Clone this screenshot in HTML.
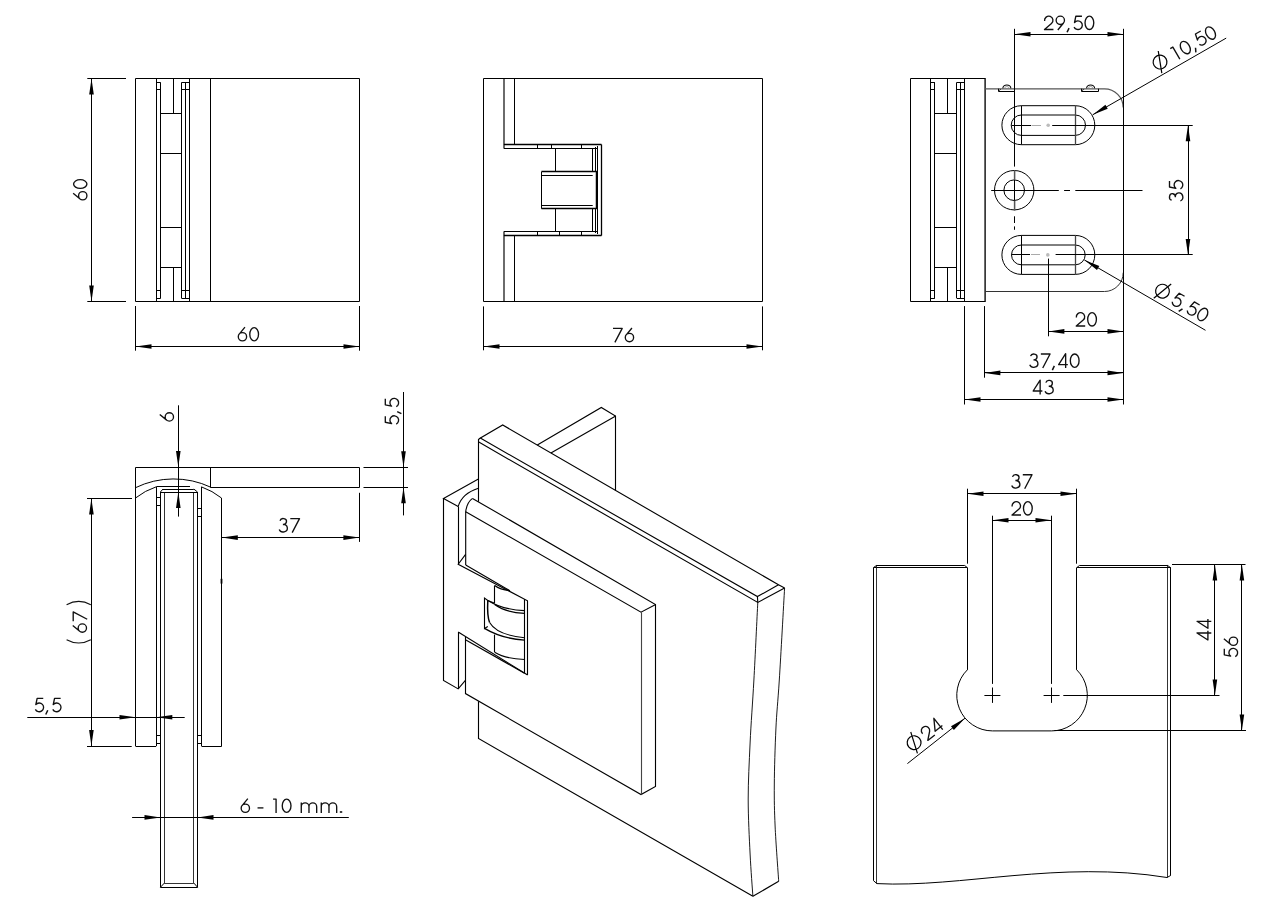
<!DOCTYPE html>
<html><head><meta charset="utf-8"><title>Glass hinge drawing</title>
<style>
html,body{margin:0;padding:0;background:#fff;}
body{width:1285px;height:913px;overflow:hidden;}
svg{display:block;}
</style></head><body>
<svg width="1285" height="913" viewBox="0 0 1285 913">
<rect x="0" y="0" width="1285" height="913" fill="#fff" stroke="none"/>
<g fill="none" stroke="#000" stroke-width="1">
<path d="M135.5 78.5L359.5 78.5L359.5 301.5L135.5 301.5Z" fill="none"/>
<line x1="156.5" y1="78.5" x2="156.5" y2="301.5"/>
<line x1="189.5" y1="78.5" x2="189.5" y2="301.5"/>
<line x1="160.5" y1="82.5" x2="160.5" y2="298.2"/>
<line x1="181.5" y1="82.5" x2="181.5" y2="298.2"/>
<line x1="185.5" y1="82.5" x2="185.5" y2="298.2"/>
<line x1="156.5" y1="82.5" x2="160.7" y2="82.5"/>
<line x1="156.5" y1="89.5" x2="160.7" y2="89.5"/>
<line x1="156.5" y1="290.5" x2="160.7" y2="290.5"/>
<line x1="156.5" y1="298.5" x2="160.7" y2="298.5"/>
<line x1="181.5" y1="82.5" x2="189.5" y2="82.5"/>
<line x1="181.5" y1="89.5" x2="189.5" y2="89.5"/>
<line x1="181.5" y1="290.5" x2="189.5" y2="290.5"/>
<line x1="181.5" y1="298.5" x2="189.5" y2="298.5"/>
<line x1="173.5" y1="78.5" x2="173.5" y2="113.4"/>
<line x1="173.5" y1="267.6" x2="173.5" y2="301.5"/>
<line x1="160.7" y1="113.5" x2="181.5" y2="113.5"/>
<line x1="160.7" y1="153.5" x2="181.5" y2="153.5"/>
<line x1="160.7" y1="227.5" x2="181.5" y2="227.5"/>
<line x1="160.7" y1="267.5" x2="181.5" y2="267.5"/>
<line x1="210.5" y1="78.5" x2="210.5" y2="301.5"/>
<line x1="87.3" y1="78.5" x2="126" y2="78.5"/>
<line x1="87.3" y1="301.5" x2="126" y2="301.5"/>
<line x1="91.5" y1="78.5" x2="91.5" y2="301.5"/>
<polygon points="91.50,78.50 93.80,94.50 89.20,94.50" fill="#000" stroke="none"/>
<polygon points="91.50,301.50 89.20,285.50 93.80,285.50" fill="#000" stroke="none"/>
<g transform="translate(87.6 189.9) rotate(-90)" stroke="#111" fill="none" stroke-linecap="butt" stroke-linejoin="round"><g stroke-width="1.35"><path transform="translate(-10.90 0)" d="M7.55 -14.45L1.83 -7.50M0.88 -4.85A4.17 4.17 0 1 1 9.22 -4.85A4.17 4.17 0 1 1 0.88 -4.85Z"/><path transform="translate(0.80 0)" d="M0.68 -7.35A4.37 6.67 0 1 1 9.42 -7.35A4.37 6.67 0 1 1 0.68 -7.35Z"/></g></g>
<line x1="135.5" y1="306" x2="135.5" y2="350.7"/>
<line x1="359.5" y1="306" x2="359.5" y2="350.7"/>
<line x1="135.5" y1="346.5" x2="359.5" y2="346.5"/>
<polygon points="135.50,346.50 151.50,344.20 151.50,348.80" fill="#000" stroke="none"/>
<polygon points="359.50,346.50 343.50,348.80 343.50,344.20" fill="#000" stroke="none"/>
<g transform="translate(248.3 341.6)" stroke="#111" fill="none" stroke-linecap="butt" stroke-linejoin="round"><g stroke-width="1.35"><path transform="translate(-10.90 0)" d="M7.55 -14.45L1.83 -7.50M0.88 -4.85A4.17 4.17 0 1 1 9.22 -4.85A4.17 4.17 0 1 1 0.88 -4.85Z"/><path transform="translate(0.80 0)" d="M0.68 -7.35A4.37 6.67 0 1 1 9.42 -7.35A4.37 6.67 0 1 1 0.68 -7.35Z"/></g></g>
<path d="M483.5 78.5L762.5 78.5L762.5 301.5L483.5 301.5Z" fill="none"/>
<path d="M504 78.5V148.4M504 231.5V301.5" fill="none" stroke-width="1.15"/>
<line x1="514.5" y1="78.5" x2="514.5" y2="144.5"/>
<line x1="514.5" y1="235.6" x2="514.5" y2="301.5"/>
<line x1="503.9" y1="144.5" x2="601.5" y2="144.5" stroke-width="1.4"/>
<line x1="503.9" y1="148.5" x2="597.9" y2="148.5"/>
<line x1="503.9" y1="231.5" x2="597.9" y2="231.5"/>
<line x1="503.9" y1="235.5" x2="601.5" y2="235.5" stroke-width="1.4"/>
<line x1="537.5" y1="144.5" x2="537.5" y2="148.4"/>
<line x1="551.5" y1="144.5" x2="551.5" y2="148.4"/>
<line x1="581.5" y1="144.5" x2="581.5" y2="148.4"/>
<line x1="537.5" y1="231.5" x2="537.5" y2="235.6"/>
<line x1="559.5" y1="231.5" x2="559.5" y2="235.6"/>
<line x1="581.5" y1="231.5" x2="581.5" y2="235.6"/>
<line x1="601.5" y1="144.5" x2="601.5" y2="235.6" stroke-width="1.3"/>
<line x1="597.5" y1="146" x2="597.5" y2="234"/>
<line x1="595.5" y1="147" x2="595.5" y2="171.8"/>
<line x1="595.5" y1="208.6" x2="595.5" y2="233"/>
<line x1="596.5" y1="171.8" x2="596.5" y2="208.6" stroke-width="1.5"/>
<line x1="592.5" y1="148.4" x2="592.5" y2="171.8"/>
<line x1="592.5" y1="208.6" x2="592.5" y2="231.5"/>
<line x1="555.5" y1="148.4" x2="555.5" y2="171.8"/>
<line x1="555.5" y1="208.6" x2="555.5" y2="231.5"/>
<line x1="541.5" y1="171.8" x2="541.5" y2="208.6"/>
<line x1="541.4" y1="171.5" x2="597.5" y2="171.5" stroke-width="1.4"/>
<line x1="541.4" y1="175.5" x2="592.7" y2="175.5"/>
<line x1="541.4" y1="205.5" x2="592.7" y2="205.5"/>
<line x1="541.4" y1="208.5" x2="597.5" y2="208.5" stroke-width="1.4"/>
<line x1="483.5" y1="306.4" x2="483.5" y2="350.3"/>
<line x1="762.5" y1="306.4" x2="762.5" y2="350.3"/>
<line x1="483.5" y1="346.5" x2="762.5" y2="346.5"/>
<polygon points="483.50,346.50 499.50,344.20 499.50,348.80" fill="#000" stroke="none"/>
<polygon points="762.50,346.50 746.50,348.80 746.50,344.20" fill="#000" stroke="none"/>
<g transform="translate(623.5 342.4)" stroke="#111" fill="none" stroke-linecap="butt" stroke-linejoin="round"><g stroke-width="1.35"><path transform="translate(-10.80 0)" d="M0.3 -14H9.5L2.2 0"/><path transform="translate(0.90 0)" d="M7.55 -14.45L1.83 -7.50M0.88 -4.85A4.17 4.17 0 1 1 9.22 -4.85A4.17 4.17 0 1 1 0.88 -4.85Z"/></g></g>
<path d="M985 78.5L910.5 78.5L910.5 301.5L985 301.5" fill="none"/>
<path d="M985.1 78V302" fill="none" stroke-width="1.35"/>
<line x1="930.5" y1="78.5" x2="930.5" y2="301.3"/>
<line x1="964.5" y1="78.5" x2="964.5" y2="301.3"/>
<line x1="934.5" y1="82.5" x2="934.5" y2="298.0"/>
<line x1="956.5" y1="82.5" x2="956.5" y2="298.0"/>
<line x1="960.5" y1="82.5" x2="960.5" y2="298.0"/>
<line x1="930.7" y1="82.5" x2="934.9000000000001" y2="82.5"/>
<line x1="930.7" y1="89.5" x2="934.9000000000001" y2="89.5"/>
<line x1="930.7" y1="290.5" x2="934.9000000000001" y2="290.5"/>
<line x1="930.7" y1="298.5" x2="934.9000000000001" y2="298.5"/>
<line x1="956.6" y1="82.5" x2="964.6" y2="82.5"/>
<line x1="956.6" y1="89.5" x2="964.6" y2="89.5"/>
<line x1="956.6" y1="290.5" x2="964.6" y2="290.5"/>
<line x1="956.6" y1="298.5" x2="964.6" y2="298.5"/>
<line x1="947.5" y1="78.5" x2="947.5" y2="113.4"/>
<line x1="947.5" y1="267.40000000000003" x2="947.5" y2="301.3"/>
<line x1="934.9000000000001" y1="113.5" x2="956.6" y2="113.5"/>
<line x1="934.9000000000001" y1="153.5" x2="956.6" y2="153.5"/>
<line x1="934.9000000000001" y1="227.5" x2="956.6" y2="227.5"/>
<line x1="934.9000000000001" y1="267.5" x2="956.6" y2="267.5"/>
<path d="M985.2 88.9H1104.5A18.7 18.7 0 0 1 1123.2 107.6" fill="none" stroke="#555" stroke-width="1.3"/>
<path d="M1123.2 272.7A18.7 18.7 0 0 1 1104.5 291.5H985.2" fill="none" stroke="#333" stroke-width="1.0"/>
<path d="M998.5 88.7L998.5 91.5L1014.5 91.5L1014.5 88.7" fill="none" stroke-width="1.0"/>
<path d="M1002.85 88.3A4 3.3 0 0 1 1010.85 88.3" fill="none" stroke-width="1.1"/>
<path d="M1004.65 88.3A2.2 1.8 0 0 1 1009.0500000000001 88.3" fill="none" stroke="#888" stroke-width="0.7"/>
<path d="M998.3 89L999.3 90.6L1000.9 89" fill="none" stroke-width="0.7"/>
<path d="M1081.5 88.7L1081.5 91.5L1098.5 91.5L1098.5 88.7" fill="none" stroke-width="1.0"/>
<path d="M1086.6000000000001 88.3A4 3.3 0 0 1 1094.6000000000001 88.3" fill="none" stroke-width="1.1"/>
<path d="M1088.4 88.3A2.2 1.8 0 0 1 1092.8000000000002 88.3" fill="none" stroke="#888" stroke-width="0.7"/>
<path d="M1081.5 89L1082.5 90.6L1084.1 89" fill="none" stroke-width="0.7"/>
<path d="M1021.4 105.7H1075.3A19.5 19.5 0 0 1 1075.3 144.7H1021.4A19.5 19.5 0 0 1 1021.4 105.7Z" fill="none"/>
<path d="M1021.4 115.0H1075.3A10.2 10.2 0 0 1 1075.3 135.4H1021.4A10.2 10.2 0 0 1 1021.4 115.0Z" fill="none"/>
<line x1="1021.5" y1="105.7" x2="1021.5" y2="144.7"/>
<line x1="1075.5" y1="105.7" x2="1075.5" y2="144.7" stroke="#444" stroke-width="1.3"/>
<path d="M1021.4 235.4H1075.3A19.5 19.5 0 0 1 1075.3 274.4H1021.4A19.5 19.5 0 0 1 1021.4 235.4Z" fill="none"/>
<path d="M1021.4 245.0H1075.3A9.9 9.9 0 0 1 1075.3 264.8H1021.4A9.9 9.9 0 0 1 1021.4 245.0Z" fill="none"/>
<line x1="1021.5" y1="235.4" x2="1021.5" y2="274.4"/>
<line x1="1075.5" y1="235.4" x2="1075.5" y2="274.4" stroke="#444" stroke-width="1.3"/>
<circle cx="1014.2" cy="190.2" r="19.7" fill="none"/>
<circle cx="1014.2" cy="190.2" r="10.3" fill="none"/>
<line x1="1011.5" y1="125.5" x2="1031" y2="125.5"/>
<line x1="1031.5" y1="125.5" x2="1041" y2="125.5" stroke="#aaa"/>
<circle cx="1048.2" cy="125.2" r="1.8" fill="#bbb" stroke="none"/>
<line x1="1052.2" y1="125.5" x2="1192.7" y2="125.5"/>
<line x1="1011.5" y1="254.5" x2="1030" y2="254.5"/>
<line x1="1031" y1="254.5" x2="1040" y2="254.5" stroke="#aaa"/>
<circle cx="1047.8" cy="254.9" r="1.8" fill="#bbb" stroke="none"/>
<line x1="1055.6" y1="254.5" x2="1192.7" y2="254.5"/>
<line x1="991.2" y1="190.5" x2="1058.8" y2="190.5"/>
<line x1="1064.1" y1="190.5" x2="1070" y2="190.5"/>
<line x1="1075.3" y1="190.5" x2="1142.5" y2="190.5"/>
<line x1="1014.5" y1="28.8" x2="1014.5" y2="166.6"/>
<line x1="1014.5" y1="179.6" x2="1014.5" y2="200.8"/>
<line x1="1014.5" y1="216.3" x2="1014.5" y2="223"/>
<line x1="1014.5" y1="226.4" x2="1014.5" y2="229.8"/>
<path d="M1014.6 170.2V179.6M1014.6 200.8V210.4" fill="none" stroke="#555" stroke-width="1.5"/>
<line x1="1123.5" y1="28.8" x2="1123.5" y2="404.5"/>
<line x1="1014.5" y1="34.5" x2="1123.5" y2="34.5"/>
<polygon points="1014.50,34.20 1030.50,31.90 1030.50,36.50" fill="#000" stroke="none"/>
<polygon points="1123.50,34.20 1107.50,36.50 1107.50,31.90" fill="#000" stroke="none"/>
<g transform="translate(1069 30.2)" stroke="#111" fill="none" stroke-linecap="butt" stroke-linejoin="round"><g stroke-width="1.35"><path transform="translate(-25.45 0)" d="M1.04 -9.22A4.2 4.2 0 1 1 7.92 -6.60L0.95 -0.68H9.9"/><path transform="translate(-13.75 0)" d="M2.55 -0.25L8.27 -7.20M0.88 -9.85A4.17 4.17 0 1 1 9.22 -9.85A4.17 4.17 0 1 1 0.88 -9.85Z"/><path transform="translate(3.65 0)" d="M9.3 -14H3.2L1.87 -7.71A4.35 4.35 0 1 1 1.42 -3.06"/><path transform="translate(15.35 0)" d="M0.68 -7.35A4.37 6.67 0 1 1 9.42 -7.35A4.37 6.67 0 1 1 0.68 -7.35Z"/></g><g stroke-width="1.5"><path transform="translate(-2.65 0)" d="M2.7 -2.1L0.7 2.1"/></g></g>
<line x1="1092.7" y1="114.8" x2="1226.2" y2="38.1"/>
<polygon points="1092.70,114.80 1105.43,104.84 1107.72,108.82" fill="#000" stroke="none"/>
<line x1="1084.3" y1="259.9" x2="1205.5" y2="330.3"/>
<polygon points="1084.30,259.90 1099.29,265.95 1096.98,269.93" fill="#000" stroke="none"/>
<line x1="1188.5" y1="125.3" x2="1188.5" y2="255"/>
<polygon points="1188.00,125.30 1190.30,141.30 1185.70,141.30" fill="#000" stroke="none"/>
<polygon points="1188.00,255.00 1185.70,239.00 1190.30,239.00" fill="#000" stroke="none"/>
<g transform="translate(1183.5 191) rotate(-90)" stroke="#111" fill="none" stroke-linecap="butt" stroke-linejoin="round"><g stroke-width="1.35"><path transform="translate(-10.90 0)" d="M1.71 -11.83A3.3 2.95 0 1 1 4.6 -8.13M4.6 -8.16A4.2 3.74 0 1 1 0.90 -3.14"/><path transform="translate(0.80 0)" d="M9.3 -14H3.2L1.87 -7.71A4.35 4.35 0 1 1 1.42 -3.06"/></g></g>
<line x1="1048.5" y1="258.6" x2="1048.5" y2="336.3"/>
<line x1="1048.4" y1="331.5" x2="1123.5" y2="331.5"/>
<polygon points="1048.40,331.40 1064.40,329.10 1064.40,333.70" fill="#000" stroke="none"/>
<polygon points="1123.50,331.40 1107.50,333.70 1107.50,329.10" fill="#000" stroke="none"/>
<g transform="translate(1086.2 326.7)" stroke="#111" fill="none" stroke-linecap="butt" stroke-linejoin="round"><g stroke-width="1.35"><path transform="translate(-10.90 0)" d="M1.04 -9.22A4.2 4.2 0 1 1 7.92 -6.60L0.95 -0.68H9.9"/><path transform="translate(0.80 0)" d="M0.68 -7.35A4.37 6.67 0 1 1 9.42 -7.35A4.37 6.67 0 1 1 0.68 -7.35Z"/></g></g>
<line x1="984.5" y1="306.1" x2="984.5" y2="377.7"/>
<line x1="984.4" y1="372.5" x2="1123.5" y2="372.5"/>
<polygon points="984.40,372.90 1000.40,370.60 1000.40,375.20" fill="#000" stroke="none"/>
<polygon points="1123.50,372.90 1107.50,375.20 1107.50,370.60" fill="#000" stroke="none"/>
<g transform="translate(1054.3 368)" stroke="#111" fill="none" stroke-linecap="butt" stroke-linejoin="round"><g stroke-width="1.35"><path transform="translate(-25.45 0)" d="M1.71 -11.83A3.3 2.95 0 1 1 4.6 -8.13M4.6 -8.16A4.2 3.74 0 1 1 0.90 -3.14"/><path transform="translate(-13.75 0)" d="M0.3 -14H9.5L2.2 0"/><path transform="translate(3.65 0)" d="M7.7 0V-14.3L0.7 -3.4H9.9"/><path transform="translate(15.35 0)" d="M0.68 -7.35A4.37 6.67 0 1 1 9.42 -7.35A4.37 6.67 0 1 1 0.68 -7.35Z"/></g><g stroke-width="1.5"><path transform="translate(-2.65 0)" d="M2.7 -2.1L0.7 2.1"/></g></g>
<line x1="964.5" y1="306.1" x2="964.5" y2="404.5"/>
<line x1="964.5" y1="399.5" x2="1123.5" y2="399.5"/>
<polygon points="964.50,399.50 980.50,397.20 980.50,401.80" fill="#000" stroke="none"/>
<polygon points="1123.50,399.50 1107.50,401.80 1107.50,397.20" fill="#000" stroke="none"/>
<g transform="translate(1043.2 394.4)" stroke="#111" fill="none" stroke-linecap="butt" stroke-linejoin="round"><g stroke-width="1.35"><path transform="translate(-10.75 0)" d="M7.7 0V-14.3L0.7 -3.4H9.9"/><path transform="translate(0.95 0)" d="M1.71 -11.83A3.3 2.95 0 1 1 4.6 -8.13M4.6 -8.16A4.2 3.74 0 1 1 0.90 -3.14"/></g></g>
<path d="M135.5 746L135.5 467.5L359.5 467.5L359.5 487.5L210.5 487.5L210.5 467" fill="none"/>
<path d="M135.5 487.7A87.4 87.4 0 0 1 210.7 487.2" fill="none"/>
<path d="M135.5 498A69.8 69.8 0 0 1 156.5 486.7" fill="none"/>
<path d="M201.5 486.9A69.8 69.8 0 0 1 221.5 498V746.5H201.5" fill="none"/>
<line x1="156.5" y1="486.5" x2="190" y2="486.5"/>
<line x1="163" y1="489.5" x2="193.8" y2="489.5"/>
<line x1="160.4" y1="492.5" x2="197.5" y2="492.5"/>
<line x1="160.4" y1="492" x2="163" y2="489"/>
<line x1="193.8" y1="489" x2="197.5" y2="492"/>
<line x1="156.5" y1="486.8" x2="156.5" y2="746"/>
<line x1="135.5" y1="746.5" x2="156.2" y2="746.5"/>
<line x1="201.5" y1="486.8" x2="201.5" y2="746"/>
<path d="M160.5 492L160.5 887.5L197.5 887.5L197.5 492" fill="none"/>
<path d="M164.5 492L164.5 883.5L193.5 883.5L193.5 492" fill="none" stroke-width="0.8"/>
<line x1="160.5" y1="887.2" x2="164.3" y2="883.1"/>
<line x1="197.5" y1="887.2" x2="193.9" y2="883.1"/>
<line x1="156.2" y1="497.5" x2="160.5" y2="497.5"/>
<line x1="156.2" y1="505.5" x2="160.5" y2="505.5"/>
<line x1="197.5" y1="508.5" x2="201.4" y2="508.5"/>
<line x1="197.5" y1="516.5" x2="201.4" y2="516.5"/>
<line x1="156.2" y1="735.5" x2="160.5" y2="735.5"/>
<line x1="197.5" y1="735.5" x2="201.4" y2="735.5"/>
<line x1="156.2" y1="743.5" x2="160.5" y2="743.5"/>
<line x1="197.5" y1="743.5" x2="201.4" y2="743.5"/>
<line x1="221.5" y1="578.8" x2="221.5" y2="583.6" stroke-width="1.8"/>
<line x1="178.5" y1="405.3" x2="178.5" y2="516.6"/>
<polygon points="178.30,467.00 176.00,451.00 180.60,451.00" fill="#000" stroke="none"/>
<polygon points="178.30,492.00 180.60,508.00 176.00,508.00" fill="#000" stroke="none"/>
<g transform="translate(174.2 417) rotate(-90)" stroke="#111" fill="none" stroke-linecap="butt" stroke-linejoin="round"><g stroke-width="1.35"><path transform="translate(-4.95 0)" d="M7.55 -14.45L1.83 -7.50M0.88 -4.85A4.17 4.17 0 1 1 9.22 -4.85A4.17 4.17 0 1 1 0.88 -4.85Z"/></g></g>
<line x1="363.5" y1="467.5" x2="408" y2="467.5"/>
<line x1="363.5" y1="487.5" x2="408" y2="487.5"/>
<line x1="403.5" y1="392" x2="403.5" y2="515.4"/>
<polygon points="403.50,467.20 401.20,451.20 405.80,451.20" fill="#000" stroke="none"/>
<polygon points="403.50,487.20 405.80,503.20 401.20,503.20" fill="#000" stroke="none"/>
<g transform="translate(399.3 411.7) rotate(-90)" stroke="#111" fill="none" stroke-linecap="butt" stroke-linejoin="round"><g stroke-width="1.35"><path transform="translate(-13.75 0)" d="M9.3 -14H3.2L1.87 -7.71A4.35 4.35 0 1 1 1.42 -3.06"/><path transform="translate(3.65 0)" d="M9.3 -14H3.2L1.87 -7.71A4.35 4.35 0 1 1 1.42 -3.06"/></g><g stroke-width="1.5"><path transform="translate(-2.65 0)" d="M2.7 -2.1L0.7 2.1"/></g></g>
<line x1="359.5" y1="492.8" x2="359.5" y2="541.9"/>
<line x1="221.8" y1="537.5" x2="359.4" y2="537.5"/>
<polygon points="221.80,537.60 237.80,535.30 237.80,539.90" fill="#000" stroke="none"/>
<polygon points="359.40,537.60 343.40,539.90 343.40,535.30" fill="#000" stroke="none"/>
<g transform="translate(289.2 532.6)" stroke="#111" fill="none" stroke-linecap="butt" stroke-linejoin="round"><g stroke-width="1.35"><path transform="translate(-10.90 0)" d="M1.71 -11.83A3.3 2.95 0 1 1 4.6 -8.13M4.6 -8.16A4.2 3.74 0 1 1 0.90 -3.14"/><path transform="translate(0.80 0)" d="M0.3 -14H9.5L2.2 0"/></g></g>
<line x1="87" y1="498.5" x2="132" y2="498.5"/>
<line x1="87" y1="746.5" x2="131.7" y2="746.5"/>
<line x1="91.5" y1="498.4" x2="91.5" y2="746"/>
<polygon points="91.40,498.40 93.70,514.40 89.10,514.40" fill="#000" stroke="none"/>
<polygon points="91.40,746.00 89.10,730.00 93.70,730.00" fill="#000" stroke="none"/>
<g transform="translate(87.2 622.2) rotate(-90)" stroke="#111" fill="none" stroke-linecap="butt" stroke-linejoin="round"><g stroke-width="1.1"><path transform="translate(-20.85 0)" d="M3.3 -20.6A25.2 25.2 0 0 0 3.3 3.6"/><path transform="translate(17.55 0)" d="M0 -20.6A25.2 25.2 0 0 1 0 3.6"/></g><g stroke-width="1.35"><path transform="translate(-10.95 0)" d="M7.55 -14.45L1.83 -7.50M0.88 -4.85A4.17 4.17 0 1 1 9.22 -4.85A4.17 4.17 0 1 1 0.88 -4.85Z"/><path transform="translate(0.75 0)" d="M0.3 -14H9.5L2.2 0"/></g></g>
<line x1="27.3" y1="717.5" x2="184.7" y2="717.5"/>
<polygon points="135.50,717.30 119.50,719.60 119.50,715.00" fill="#000" stroke="none"/>
<polygon points="156.30,717.30 172.30,715.00 172.30,719.60" fill="#000" stroke="none"/>
<g transform="translate(47.7 712.4)" stroke="#111" fill="none" stroke-linecap="butt" stroke-linejoin="round"><g stroke-width="1.35"><path transform="translate(-13.75 0)" d="M9.3 -14H3.2L1.87 -7.71A4.35 4.35 0 1 1 1.42 -3.06"/><path transform="translate(3.65 0)" d="M9.3 -14H3.2L1.87 -7.71A4.35 4.35 0 1 1 1.42 -3.06"/></g><g stroke-width="1.5"><path transform="translate(-2.65 0)" d="M2.7 -2.1L0.7 2.1"/></g></g>
<line x1="132.1" y1="817.5" x2="348.8" y2="817.5"/>
<polygon points="160.50,817.40 144.50,819.70 144.50,815.10" fill="#000" stroke="none"/>
<polygon points="197.50,817.40 213.50,815.10 213.50,819.70" fill="#000" stroke="none"/>
<g transform="translate(291.3 813.1)" stroke="#111" fill="none" stroke-linecap="butt" stroke-linejoin="round"><g stroke-width="1.35"><path transform="translate(-51.02 0)" d="M7.55 -14.45L1.83 -7.50M0.88 -4.85A4.17 4.17 0 1 1 9.22 -4.85A4.17 4.17 0 1 1 0.88 -4.85Z"/><path transform="translate(-34.07 0)" d="M0.3 -5.2H6.2"/><path transform="translate(-21.42 0)" d="M3.2 -14H6.2V0"/><path transform="translate(-9.73 0)" d="M0.68 -7.35A4.37 6.67 0 1 1 9.42 -7.35A4.37 6.67 0 1 1 0.68 -7.35Z"/><path transform="translate(9.08 0)" d="M0.9 0V-10.7M0.9 -6.4A3.85 3.85 0 0 1 8.6 -6.4V0M8.6 -6.4A3.85 3.85 0 0 1 16.3 -6.4V0"/><path transform="translate(29.08 0)" d="M0.9 0V-10.7M0.9 -6.4A3.85 3.85 0 0 1 8.6 -6.4V0M8.6 -6.4A3.85 3.85 0 0 1 16.3 -6.4V0"/></g><g stroke-width="2.4"><path transform="translate(48.43 0)" d="M1.3 -1.9V-0.3"/></g></g>
<path d="M967.5 567.6L967.5 669.9" fill="none"/>
<path d="M1076.5 567.6L1076.5 669.9" fill="none"/>
<path d="M967.3 669.9A35.7 35.7 0 0 0 992.4 730.9000000000001H1051.6A35.7 35.7 0 0 0 1076.8 669.9" fill="none"/>
<path d="M873.5 880.7L873.5 567.6L876.4 565.5L964.7 565.5L967.3 567.6" fill="none"/>
<line x1="876.4" y1="567.5" x2="967.3" y2="567.5"/>
<line x1="876.5" y1="565" x2="876.5" y2="883.6" stroke-width="0.8"/>
<line x1="873.5" y1="567.5" x2="876.4" y2="567.5"/>
<line x1="873.5" y1="880.7" x2="876.9" y2="883.6"/>
<path d="M1076.8 567.6L1079.4 565.5L1167.7 565.5L1170.5 567.7L1170.5 875.4" fill="none"/>
<line x1="1076.8" y1="567.5" x2="1170.8" y2="567.5"/>
<line x1="1167.5" y1="565" x2="1167.5" y2="877.5" stroke-width="0.8"/>
<line x1="1167" y1="877.5" x2="1170.8" y2="875.4"/>
<path d="M876.9 883.6C960 888,1060 860,1167 877.5" fill="none"/>
<line x1="984.4" y1="695.5" x2="1000.4" y2="695.5"/>
<line x1="992.5" y1="687.5" x2="992.5" y2="702.9000000000001"/>
<line x1="1043.6" y1="695.5" x2="1059.6" y2="695.5"/>
<line x1="1051.5" y1="687.5" x2="1051.5" y2="702.9000000000001"/>
<line x1="967.5" y1="488.7" x2="967.5" y2="563.7"/>
<line x1="1076.5" y1="488.7" x2="1076.5" y2="563.7"/>
<line x1="967.5" y1="493.5" x2="1076.5" y2="493.5"/>
<polygon points="967.50,493.70 983.50,491.40 983.50,496.00" fill="#000" stroke="none"/>
<polygon points="1076.50,493.70 1060.50,496.00 1060.50,491.40" fill="#000" stroke="none"/>
<g transform="translate(1021.7 488.7)" stroke="#111" fill="none" stroke-linecap="butt" stroke-linejoin="round"><g stroke-width="1.35"><path transform="translate(-10.90 0)" d="M1.71 -11.83A3.3 2.95 0 1 1 4.6 -8.13M4.6 -8.16A4.2 3.74 0 1 1 0.90 -3.14"/><path transform="translate(0.80 0)" d="M0.3 -14H9.5L2.2 0"/></g></g>
<line x1="992.5" y1="515.7" x2="992.5" y2="683.9"/>
<line x1="1051.5" y1="515.7" x2="1051.5" y2="683.9"/>
<line x1="992.5" y1="520.5" x2="1051.5" y2="520.5"/>
<polygon points="992.50,520.30 1008.50,518.00 1008.50,522.60" fill="#000" stroke="none"/>
<polygon points="1051.50,520.30 1035.50,522.60 1035.50,518.00" fill="#000" stroke="none"/>
<g transform="translate(1022 515.7)" stroke="#111" fill="none" stroke-linecap="butt" stroke-linejoin="round"><g stroke-width="1.35"><path transform="translate(-10.90 0)" d="M1.04 -9.22A4.2 4.2 0 1 1 7.92 -6.60L0.95 -0.68H9.9"/><path transform="translate(0.80 0)" d="M0.68 -7.35A4.37 6.67 0 1 1 9.42 -7.35A4.37 6.67 0 1 1 0.68 -7.35Z"/></g></g>
<line x1="1172" y1="564.5" x2="1245.5" y2="564.5"/>
<line x1="1063.3" y1="695.5" x2="1219.5" y2="695.5"/>
<line x1="1054.4" y1="730.5" x2="1246" y2="730.5"/>
<line x1="1214.5" y1="564.6" x2="1214.5" y2="695.4"/>
<polygon points="1214.90,564.60 1217.20,580.60 1212.60,580.60" fill="#000" stroke="none"/>
<polygon points="1214.90,695.40 1212.60,679.40 1217.20,679.40" fill="#000" stroke="none"/>
<line x1="1241.5" y1="564.6" x2="1241.5" y2="730.6"/>
<polygon points="1241.90,564.60 1244.20,580.60 1239.60,580.60" fill="#000" stroke="none"/>
<polygon points="1241.90,730.60 1239.60,714.60 1244.20,714.60" fill="#000" stroke="none"/>
<g transform="translate(1211.3 629.8) rotate(-90)" stroke="#111" fill="none" stroke-linecap="butt" stroke-linejoin="round"><g stroke-width="1.35"><path transform="translate(-10.90 0)" d="M7.7 0V-14.3L0.7 -3.4H9.9"/><path transform="translate(0.80 0)" d="M7.7 0V-14.3L0.7 -3.4H9.9"/></g></g>
<g transform="translate(1238.3 647.2) rotate(-90)" stroke="#111" fill="none" stroke-linecap="butt" stroke-linejoin="round"><g stroke-width="1.35"><path transform="translate(-10.80 0)" d="M9.3 -14H3.2L1.87 -7.71A4.35 4.35 0 1 1 1.42 -3.06"/><path transform="translate(0.90 0)" d="M7.55 -14.45L1.83 -7.50M0.88 -4.85A4.17 4.17 0 1 1 9.22 -4.85A4.17 4.17 0 1 1 0.88 -4.85Z"/></g></g>
<line x1="965" y1="718.2" x2="907.4" y2="763.6"/>
<polygon points="965.00,718.20 953.86,729.91 951.01,726.30" fill="#000" stroke="none"/>
</g>
<g fill="none" stroke="#000" stroke-width="1.12">
<g transform="translate(1226.2 38.1) rotate(-30)">
<g transform="translate(-6 -4.9)" stroke="#111" fill="none" stroke-linecap="butt" stroke-linejoin="round"><g stroke-width="1.35"><path transform="translate(-50.90 0)" d="M3.2 -14H6.2V0"/><path transform="translate(-39.20 0)" d="M0.68 -7.35A4.37 6.67 0 1 1 9.42 -7.35A4.37 6.67 0 1 1 0.68 -7.35Z"/><path transform="translate(-21.80 0)" d="M9.3 -14H3.2L1.87 -7.71A4.35 4.35 0 1 1 1.42 -3.06"/><path transform="translate(-10.10 0)" d="M0.68 -7.35A4.37 6.67 0 1 1 9.42 -7.35A4.37 6.67 0 1 1 0.68 -7.35Z"/></g><g stroke-width="1.5"><path transform="translate(-28.10 0)" d="M2.7 -2.1L0.7 2.1"/></g></g>
<circle cx="-69.3" cy="-12.3" r="6.9" fill="none" stroke-width="1.2"/>
<line x1="-73.3" y1="-1.8" x2="-65.3" y2="-22.8" stroke-width="1.2"/>
</g>
<g transform="translate(1206.2 330.6) rotate(30)">
<g transform="translate(-6 -4.9)" stroke="#111" fill="none" stroke-linecap="butt" stroke-linejoin="round"><g stroke-width="1.35"><path transform="translate(-39.20 0)" d="M9.3 -14H3.2L1.87 -7.71A4.35 4.35 0 1 1 1.42 -3.06"/><path transform="translate(-21.80 0)" d="M9.3 -14H3.2L1.87 -7.71A4.35 4.35 0 1 1 1.42 -3.06"/><path transform="translate(-10.10 0)" d="M0.68 -7.35A4.37 6.67 0 1 1 9.42 -7.35A4.37 6.67 0 1 1 0.68 -7.35Z"/></g><g stroke-width="1.5"><path transform="translate(-28.10 0)" d="M2.7 -2.1L0.7 2.1"/></g></g>
<circle cx="-57.6" cy="-12.3" r="6.9" fill="none" stroke-width="1.2"/>
<line x1="-61.6" y1="-1.8" x2="-53.6" y2="-22.8" stroke-width="1.2"/>
</g>
<g transform="translate(907.4 763.6) rotate(-38.2)">
<g transform="translate(29.4 -4.9)" stroke="#111" fill="none" stroke-linecap="butt" stroke-linejoin="round"><g stroke-width="1.35"><path transform="translate(0.00 0)" d="M1.04 -9.22A4.2 4.2 0 1 1 7.92 -6.60L0.95 -0.68H9.9"/><path transform="translate(11.70 0)" d="M7.7 0V-14.3L0.7 -3.4H9.9"/></g></g>
<circle cx="18.2" cy="-12.3" r="6.9" fill="none" stroke-width="1.2"/>
<line x1="14.2" y1="-1.8" x2="22.2" y2="-22.8" stroke-width="1.2"/>
</g>
<path d="M478.5 501.8L478.5 439.6L479.6 438.5L502.7 425L778.5 584.8L784.6 588" fill="none"/>
<path d="M480.3 438.1L757.4 596.6L778.5 584.8" fill="none"/>
<path d="M478.8 442.1L757.8 602.4L784.6 588" fill="none"/>
<line x1="757.4" y1="596.6" x2="757.8" y2="602.4"/>
<path d="M757.8 602.4C757.1 615.3,755.2 656.6,753.9 680C752.6 703.4,751.0 723.2,750.1 743C749.2 762.8,748.2 780.5,748.2 799C748.2 817.5,749.3 837.8,750.1 854C750.9 870.2,752.4 889.2,752.9 896.3" fill="none" stroke-width="0.9"/>
<path d="M784.6 588C783.7 603.3,780.8 656.5,779.3 680C777.8 703.5,776.7 711.5,775.9 729C775.1 746.5,774.4 768.8,774.3 785C774.2 801.2,774.4 810.0,775.1 826C775.8 842.0,778.1 872.1,778.7 881.3" fill="none" stroke-width="0.9"/>
<line x1="752.9" y1="896.3" x2="778.7" y2="881.3"/>
<path d="M478.5 701.3L478.5 738.5L752.9 896.3" fill="none"/>
<path d="M537.3 445L601.3 407.4L615.5 416.1L615.5 490.5" fill="none"/>
<line x1="615.7" y1="416.1" x2="550.9" y2="452.9"/>
<path d="M478.4 478.9L443.5 498.4L458.2 506.5" fill="none"/>
<path d="M443.5 498.4L443.5 680.5L458.2 688.9L465.6 680.2" fill="none"/>
<path d="M458.5 506.5L458.5 564.2" fill="none"/>
<path d="M458.5 632L458.5 688.9" fill="none"/>
<path d="M458.2 506.5Q462 493.5 478.4 488.3" fill="none"/>
<path d="M472.5 498.4Q466.8 502.5 465.7 511.7V565" fill="none"/>
<path d="M465.5 636.8L465.5 693.6L641 794.6L655.5 786.4L655.5 604.6L472.5 498.4" fill="none"/>
<path d="M465.7 511.7L641 612.2L655.7 604.6" fill="none"/>
<line x1="641.5" y1="612.2" x2="641.5" y2="794.6" stroke="#444"/>
<path d="M465.6 554.3L458.2 564.2L527.5 600.8L527.5 675" fill="none"/>
<path d="M465.7 565L506 588.4L510 590.7" fill="none"/>
<path d="M494.7 585.5Q500 589.6 509.6 590.7" fill="none"/>
<path d="M524.5 599.1L524.5 673.2" fill="none"/>
<path d="M458.2 632L527.6 675" fill="none"/>
<path d="M465.9 640L524.5 673.2" fill="none"/>
<line x1="494.5" y1="585.5" x2="494.5" y2="603.2"/>
<line x1="494.5" y1="634.6" x2="494.5" y2="652.2"/>
<path d="M487.8 626.4L484.5 628.4L484.5 598.1L487.8 600.4L494.7 603.2" fill="none"/>
<path d="M487.8 600.4Q487 616 489.6 622.5" fill="none" stroke-width="1.5"/>
<path d="M487.8 600.4Q503 609.8 524.5 610.6" fill="none"/>
<path d="M494.7 604.4Q506 612.7 524.5 613.4" fill="none" stroke-width="1.3"/>
<path d="M484.5 628.4Q502 638.8 524.5 640.1" fill="none" stroke-width="1.3"/>
<path d="M489.6 622.5Q497 635 524.5 637.8" fill="none"/>
<path d="M494.7 652.2Q505 658.8 524.5 659.5" fill="none"/>
</g>
</svg>
</body></html>
